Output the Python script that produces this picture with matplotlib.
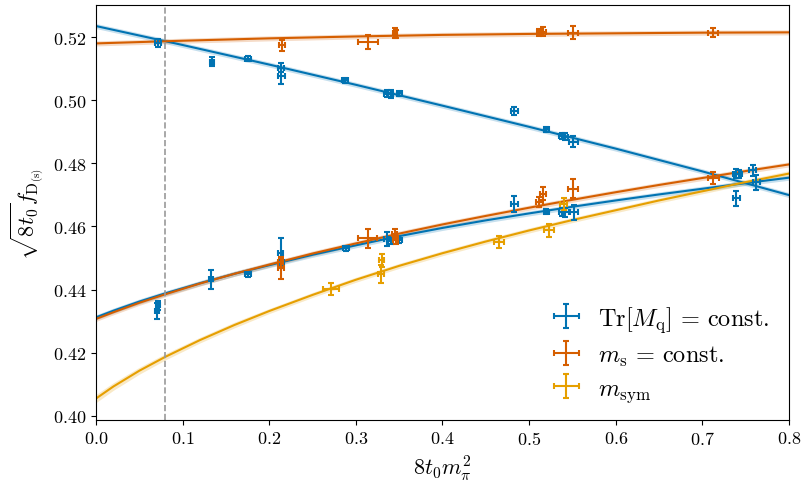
import numpy as np
import matplotlib
matplotlib.use("Agg")
import matplotlib.pyplot as plt

plt.rcParams["font.family"] = "serif"
plt.rcParams["font.serif"] = ["cmr10"]
plt.rcParams["mathtext.fontset"] = "cm"
plt.rcParams["axes.formatter.use_mathtext"] = True

blue = "#0173b2"
orange = "#d55e00"
yellow = "#e69f00"

# fit curves
x_top = [0.0, 0.1, 0.2, 0.3, 0.4, 0.5, 0.6, 0.7, 0.8]
tr_upper = [0.5234, 0.5174, 0.5112, 0.5048, 0.4982, 0.4915, 0.4846, 0.4774, 0.4699]
ms_upper = [0.5179, 0.51875, 0.5195, 0.5201, 0.5206, 0.5209, 0.5211, 0.5213, 0.5214]

x_low = [0.0, 0.02, 0.05, 0.08, 0.12, 0.16, 0.2, 0.25, 0.3, 0.35, 0.4, 0.45, 0.5, 0.55, 0.6, 0.65, 0.7, 0.75, 0.8]
tr_lower = [0.4312, 0.4333, 0.4362, 0.4388, 0.4420, 0.4450, 0.4477, 0.4510, 0.4540, 0.4569,
            0.4595, 0.4619, 0.4641, 0.4662, 0.4682, 0.4701, 0.4719, 0.4737, 0.4754]
ms_lower = [0.4307, 0.4328, 0.4358, 0.4385, 0.4419, 0.4450, 0.4479, 0.4514, 0.4546, 0.4577,
            0.4606, 0.4633, 0.4659, 0.4684, 0.4708, 0.4731, 0.4753, 0.4775, 0.4796]
sym_fit = [0.4055, 0.4093, 0.4143, 0.4187, 0.4240, 0.4288, 0.4332, 0.4383, 0.4431, 0.4475,
           0.4515, 0.4552, 0.4587, 0.4620, 0.4651, 0.4682, 0.4711, 0.4740, 0.4767]
sym_band = [0.0013, 0.0012, 0.0011, 0.0010, 0.0009, 0.0009, 0.0008, 0.0008, 0.0008, 0.0008,
            0.0008, 0.0008, 0.0008, 0.0008, 0.0008, 0.0008, 0.0008, 0.0008, 0.0009]
band = 0.0008

# Tr[Mq] = const. data
tr_x = [0.0716, 0.134, 0.1755, 0.2136, 0.2140, 0.2875, 0.3364, 0.3400, 0.3500, 0.4827, 0.5200, 0.5377, 0.5415, 0.5510,
        0.0715, 0.0705, 0.1330, 0.1755, 0.2130, 0.2140, 0.2887, 0.3360, 0.3400, 0.3500, 0.4830, 0.5200, 0.5377,
        0.5415, 0.5520, 0.7390, 0.7420, 0.7390, 0.7580, 0.7620]
tr_y = [0.5181, 0.5121, 0.5130, 0.5102, 0.5075, 0.5062, 0.5020, 0.5019, 0.5021, 0.4965, 0.4908, 0.4887, 0.4884, 0.4868,
        0.4350, 0.4333, 0.4432, 0.4448, 0.4515, 0.4488, 0.4531, 0.4560, 0.4555, 0.4556, 0.4671, 0.4647, 0.4646,
        0.4645, 0.4644, 0.4766, 0.4765, 0.4689, 0.4777, 0.4740]
tr_xerr = [0.003, 0.002, 0.003, 0.003, 0.004, 0.003, 0.004, 0.003, 0.003, 0.004, 0.003, 0.003, 0.003, 0.005,
           0.002, 0.002, 0.002, 0.003, 0.003, 0.003, 0.003, 0.004, 0.003, 0.003, 0.004, 0.003, 0.003,
           0.004, 0.005, 0.004, 0.004, 0.004, 0.004, 0.004]
tr_yerr = [0.0012, 0.0014, 0.0008, 0.0014, 0.0025, 0.0008, 0.0012, 0.0012, 0.0008, 0.0014, 0.0008, 0.0010, 0.0012, 0.0018,
           0.0015, 0.0025, 0.0030, 0.0009, 0.0048, 0.0015, 0.0008, 0.0022, 0.0010, 0.0008, 0.0024, 0.0008, 0.0012,
           0.0014, 0.0024, 0.0014, 0.0012, 0.0024, 0.0018, 0.0024]

# m_s = const. data
ms_x = [0.2148, 0.3140, 0.3450, 0.3460, 0.5120, 0.5160, 0.5510, 0.7125,
        0.2130, 0.2136, 0.3137, 0.3450, 0.3460, 0.5120, 0.5160, 0.5505, 0.7128]
ms_y = [0.5173, 0.5184, 0.5212, 0.5208, 0.5214, 0.5216, 0.5213, 0.5213,
        0.4487, 0.4467, 0.4562, 0.4576, 0.4556, 0.4676, 0.4703, 0.4719, 0.4753]
ms_xerr = [0.003, 0.011, 0.002, 0.002, 0.003, 0.003, 0.006, 0.006,
           0.003, 0.003, 0.011, 0.003, 0.003, 0.004, 0.003, 0.006, 0.006]
ms_yerr = [0.0018, 0.0022, 0.0016, 0.0012, 0.0012, 0.0014, 0.0020, 0.0015,
           0.0015, 0.0033, 0.0030, 0.0016, 0.0012, 0.0016, 0.0020, 0.0030, 0.0020]

# m_sym data
sym_x = [0.2714, 0.3290, 0.3300, 0.4654, 0.5230, 0.5400]
sym_y = [0.4402, 0.4450, 0.4492, 0.4550, 0.4587, 0.4671]
sym_xerr = [0.009, 0.004, 0.003, 0.006, 0.006, 0.004]
sym_yerr = [0.0018, 0.0028, 0.0022, 0.0018, 0.0020, 0.0020]

x_phys = 0.08

fig, ax = plt.subplots(figsize=(8.04, 4.89), dpi=100)
fig.subplots_adjust(left=0.1194, right=0.9813, bottom=0.139, top=0.988)

curves = [(x_top, tr_upper, band, blue), (x_low, tr_lower, band, blue),
          (x_top, ms_upper, band, orange), (x_low, ms_lower, band, orange),
          (x_low, sym_fit, np.array(sym_band), yellow)]
for xf, yf, b, c in curves:
    xf = np.array(xf)
    yf = np.array(yf)
    ax.fill_between(xf, yf - b, yf + b, color=c, alpha=0.22, lw=0)
    ax.plot(xf, yf, color=c, lw=1.5)

ax.axvline(x_phys, color="#999999", ls="--", lw=1.2)

kw = dict(fmt="none", capsize=2.5, elinewidth=1.5, capthick=1.5)
ax.errorbar(tr_x, tr_y, xerr=tr_xerr, yerr=tr_yerr, color=blue,
            label=r"$\mathrm{Tr}[M_\mathrm{q}]\,=\,\mathrm{const.}$", **kw)
ax.errorbar(ms_x, ms_y, xerr=ms_xerr, yerr=ms_yerr, color=orange,
            label=r"$m_\mathrm{s}\,=\,\mathrm{const.}$", **kw)
ax.errorbar(sym_x, sym_y, xerr=sym_xerr, yerr=sym_yerr, color=yellow,
            label=r"$m_\mathrm{sym}$", **kw)

ax.set_xlim(0.0, 0.8)
ax.set_ylim(0.3987, 0.5301)
ax.set_xticks([0.0, 0.1, 0.2, 0.3, 0.4, 0.5, 0.6, 0.7, 0.8])
ax.set_yticks([0.40, 0.42, 0.44, 0.46, 0.48, 0.50, 0.52])
ax.tick_params(labelsize=13)
ax.set_xlabel(r"$8t_0m_\pi^2$", fontsize=16)
ax.set_ylabel(r"$\sqrt{8t_0}f_{\mathrm{D}_{(\mathrm{s})}}$", fontsize=16)
ax.legend(loc="lower right", bbox_to_anchor=(1.003, -0.013), frameon=False,
          fontsize=17.5, labelspacing=0.4, handlelength=1.6, handletextpad=0.5)

plt.savefig("out.png", dpi=100)
